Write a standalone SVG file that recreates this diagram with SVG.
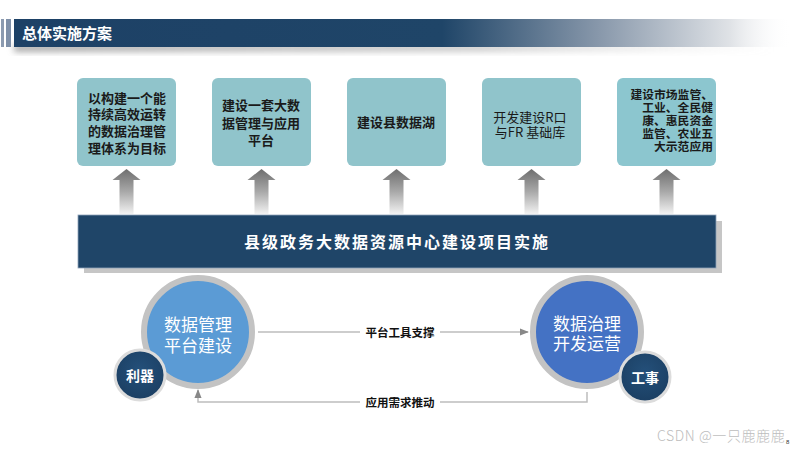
<svg xmlns="http://www.w3.org/2000/svg" width="800" height="450" viewBox="0 0 800 450">
<defs>
<linearGradient id="hdr" x1="14" y1="0" x2="792" y2="0" gradientUnits="userSpaceOnUse">
<stop offset="0" stop-color="#1d4166"/>
<stop offset="0.55" stop-color="#1f4568"/>
<stop offset="0.75" stop-color="#8797aa"/>
<stop offset="0.92" stop-color="#dfe2e6"/>
<stop offset="1" stop-color="#ffffff" stop-opacity="0"/>
</linearGradient>
<linearGradient id="arr" x1="0" y1="0" x2="0" y2="1">
<stop offset="0" stop-color="#6e6e6e"/>
<stop offset="0.5" stop-color="#a8a8a8"/>
<stop offset="1" stop-color="#f2f2f2"/>
</linearGradient>
<linearGradient id="hdrsh" x1="0" y1="0" x2="1" y2="0">
<stop offset="0" stop-color="#888" stop-opacity="0.7"/>
<stop offset="0.6" stop-color="#999" stop-opacity="0.5"/>
<stop offset="1" stop-color="#ccc" stop-opacity="0"/>
</linearGradient>
<radialGradient id="dark" cx="0.5" cy="0.4" r="0.6">
<stop offset="0" stop-color="#24507a"/>
<stop offset="1" stop-color="#1b3f63"/>
</radialGradient>
<filter id="blur" x="-5%" y="-50%" width="110%" height="200%">
<feGaussianBlur stdDeviation="3"/>
</filter>
<marker id="ah" viewBox="0 0 10 10" refX="9" refY="5" markerWidth="6" markerHeight="6" orient="auto">
<path d="M0,1 L10,5 L0,9 z" fill="#888"/>
</marker>
<style>
.box{fill:#90c4cb}
.bt{font-family:"Noto Sans CJK SC","Noto Sans",sans-serif;font-size:13px;font-weight:bold;fill:#1a1a1a}
.bs{font-family:"Noto Sans CJK SC","Noto Sans",sans-serif;font-size:11.8px;font-weight:bold;fill:#1a1a1a}
.bn{font-family:"Noto Sans CJK SC","Noto Sans",sans-serif;font-size:13px;fill:#1a1a1a}
.ct{font-family:"Noto Sans CJK SC","Noto Sans",sans-serif;font-size:17px;fill:#ffffff;text-anchor:middle}
.st{font-family:"Noto Sans CJK SC","Noto Sans",sans-serif;font-size:14px;font-weight:bold;fill:#ffffff;text-anchor:middle}
.lb{font-family:"Noto Sans CJK SC","Noto Sans",sans-serif;font-size:11.5px;font-weight:bold;fill:#111;text-anchor:middle}
.ln{fill:none;stroke:#bdbdbd;stroke-width:1.5}
.ring{stroke:#c3c3c3;stroke-width:6}
.sm{stroke:#dcdcdc;stroke-width:3;fill:url(#dark)}
</style>
</defs>
<rect width="800" height="450" fill="#ffffff"/>

<g id="header">
<rect x="14" y="44" width="760" height="8" fill="url(#hdrsh)" filter="url(#blur)"/>
<rect x="1" y="19" width="3" height="28" fill="#8c9bb0"/>
<rect x="6" y="19" width="5" height="28" fill="#7f90a8"/>
<rect x="14" y="19" width="778" height="28" fill="url(#hdr)"/>
<text x="22" y="39" font-family="'Noto Sans CJK SC',sans-serif" font-size="15" font-weight="bold" fill="#ffffff">总体实施方案</text>
</g>

<g id="box1">
<rect class="box" x="77" y="78" width="99" height="88" rx="6"/>
<text class="bt" text-anchor="middle"><tspan x="127" y="103">以构建一个能</tspan><tspan x="127" y="119">持续高效运转</tspan><tspan x="127" y="136">的数据治理管</tspan><tspan x="127" y="153">理体系为目标</tspan></text>
</g>
<g id="box2">
<rect class="box" x="212" y="78" width="99" height="88" rx="6"/>
<text class="bt" text-anchor="middle"><tspan x="261" y="110">建设一套大数</tspan><tspan x="261" y="128">据管理与应用</tspan><tspan x="261" y="145">平台</tspan></text>
</g>
<g id="box3">
<rect class="box" x="347" y="78" width="99" height="88" rx="6"/>
<text class="bt" x="396" y="127" text-anchor="middle">建设县数据湖</text>
</g>
<g id="box4">
<rect class="box" x="482" y="78" width="99" height="88" rx="6"/>
<text class="bn" text-anchor="middle"><tspan x="530" y="122">开发建设R口</tspan><tspan x="530" y="137">与FR 基础库</tspan></text>
</g>
<g id="box5">
<rect x="617" y="78" width="99" height="88" rx="6" fill="#8cc6cf"/>
<text class="bs" text-anchor="end"><tspan x="713" y="99">建设市场监管、</tspan><tspan x="713" y="112">工业、全民健</tspan><tspan x="713" y="125">康、惠民资金</tspan><tspan x="713" y="138">监管、农业五</tspan><tspan x="713" y="151">大示范应用</tspan></text>
</g>

<g id="up-arrows" fill="url(#arr)">
<polygon points="126.5,169 140.5,180 133.5,180 133.5,214 119.5,214 119.5,180 112.5,180"/>
<polygon points="261.5,169 275.5,180 268.5,180 268.5,214 254.5,214 254.5,180 247.5,180"/>
<polygon points="396.5,169 410.5,180 403.5,180 403.5,214 389.5,214 389.5,180 382.5,180"/>
<polygon points="531.5,169 545.5,180 538.5,180 538.5,214 524.5,214 524.5,180 517.5,180"/>
<polygon points="666.5,169 680.5,180 673.5,180 673.5,214 659.5,214 659.5,180 652.5,180"/>
</g>

<g id="mainbar">
<rect x="84" y="221" width="638" height="52" fill="#c6c6c6"/>
<rect x="78" y="215" width="638" height="53" fill="#1f4568" stroke="#8fa3ba" stroke-width="0.8"/>
<text x="397" y="248" font-family="'Noto Sans CJK SC',sans-serif" font-size="16" font-weight="bold" fill="#ffffff" text-anchor="middle" letter-spacing="2">县级政务大数据资源中心建设项目实施</text>
</g>

<g id="connectors">
<line class="ln" x1="258" y1="332" x2="528" y2="332" marker-end="url(#ah)"/>
<polyline class="ln" points="587,392 587,402 198,402 198,390" marker-end="url(#ah)"/>
<rect x="360" y="324" width="80" height="17" fill="#ffffff"/>
<text class="lb" x="400" y="337">平台工具支撑</text>
<rect x="360" y="394" width="80" height="17" fill="#ffffff"/>
<text class="lb" x="400" y="407">应用需求推动</text>
</g>

<g id="circle-left">
<circle class="ring" cx="198" cy="332" r="54" fill="#5b9bd5"/>
<text class="ct" x="198" y="331">数据管理</text>
<text class="ct" x="198" y="352">平台建设</text>
</g>
<g id="tag-left">
<circle class="sm" cx="140" cy="375" r="25"/>
<text class="st" x="140" y="381">利器</text>
</g>

<g id="circle-right">
<circle class="ring" cx="587" cy="332" r="54" fill="#4472c4"/>
<text class="ct" x="587" y="330">数据治理</text>
<text class="ct" x="587" y="350">开发运营</text>
</g>
<g id="tag-right">
<circle class="sm" cx="645" cy="377" r="25"/>
<text class="st" x="645" y="383">工事</text>
</g>

<g id="watermark">
<text x="657" y="441" font-family="'Noto Sans CJK SC',sans-serif" font-size="14" font-weight="300" fill="#bdbdbd" letter-spacing="0.6">CSDN @一只鹿鹿鹿</text>
<text x="786" y="444" font-family="'Liberation Sans',sans-serif" font-size="6" fill="#333">8</text>
</g>
</svg>
